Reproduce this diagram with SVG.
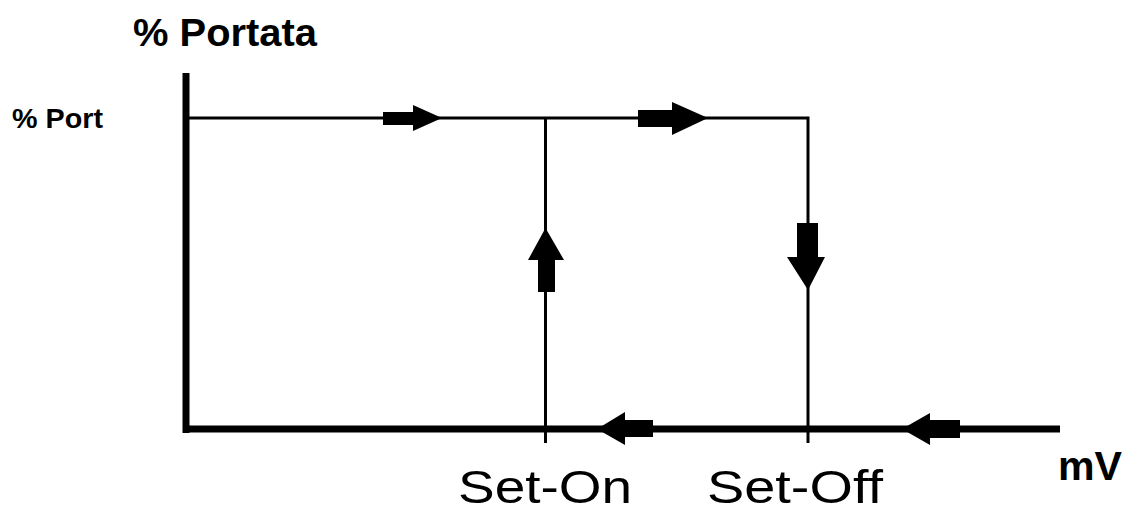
<svg xmlns="http://www.w3.org/2000/svg" width="1127" height="513" viewBox="0 0 1127 513">
<style>
.ax{stroke:#000;stroke-width:7;fill:none}
.ln{stroke:#000;stroke-width:3;fill:none}
.ar{fill:#000;stroke:none}
.b{font-family:"Liberation Sans",Arial,sans-serif;font-weight:bold;fill:#000}
.r{font-family:"Liberation Sans",Arial,sans-serif;fill:#000}
</style>
<rect width="1127" height="513" fill="#fff"/>
<g id="axes">
<line class="ax" x1="186" y1="73" x2="186" y2="433"/>
<line class="ax" x1="183" y1="429" x2="1060" y2="429"/>
</g>
<g id="connectors">
<polyline class="ln" points="186,118 808,118 808,429"/>
<line class="ln" x1="545.5" y1="118" x2="545.5" y2="443"/>
<line class="ln" x1="808" y1="429" x2="808" y2="443"/>
</g>
<g id="arrows">
<polygon class="ar" points="383,112 413,112 413,105 442,118 413,131 413,125 383,125"/>
<polygon class="ar" points="638,110 672,110 672,102 708,118 672,135 672,127 638,127"/>
<polygon class="ar" points="538,292 538,260 528,260 545.5,228 564,260 555,260 555,292"/>
<polygon class="ar" points="797,223 797,257 787,257 808,290 825,257 818,257 818,223"/>
<polygon class="ar" points="653,420 625,420 625,412 597,429 625,445 625,437 653,437"/>
<polygon class="ar" points="960,420 930,420 930,413 902,429 930,445 930,438 960,438"/>
</g>
<g id="labels">
<text class="b" x="133" y="46" font-size="39.5" textLength="184" lengthAdjust="spacingAndGlyphs">% Portata</text>
<text class="b" x="12" y="128" font-size="28.5" textLength="91" lengthAdjust="spacingAndGlyphs">% Port</text>
<text class="b" x="1058" y="480" font-size="41" textLength="64" lengthAdjust="spacingAndGlyphs">mV</text>
<text class="r" x="458" y="503" font-size="47" textLength="174" lengthAdjust="spacingAndGlyphs">Set-On</text>
<text class="r" x="707" y="503" font-size="47" textLength="176" lengthAdjust="spacingAndGlyphs">Set-Off</text>
</g>
</svg>
